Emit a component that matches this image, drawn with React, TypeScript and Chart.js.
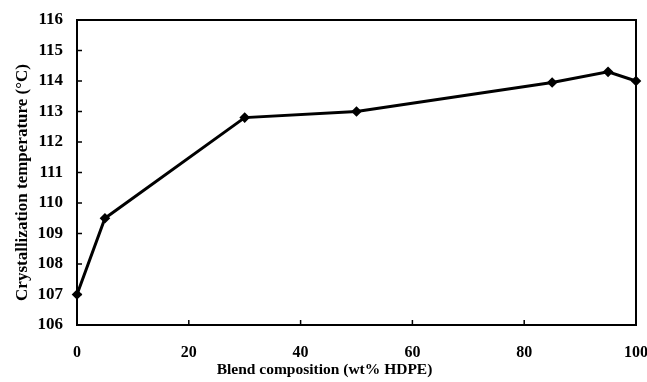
import React, { useEffect, useRef } from "react";
import { Chart, registerables } from "chart.js";

Chart.register(...registerables);

const compositions = [0, 5, 30, 50, 85, 95, 100];
const crystTemps = [107, 109.5, 112.8, 113.0, 113.95, 114.3, 114.0];
const xTickValues = [0, 20, 40, 60, 80, 100];
const yTickValues = [106, 107, 108, 109, 110, 111, 112, 113, 114, 115, 116];
const xTitle = "Blend composition (wt% HDPE)";
const yTitle = "Crystallization temperature (°C)";

const FONT = "'Liberation Serif', 'Times New Roman', serif";

const framePlugin = {
  id: "frame",
  beforeDatasetsDraw(chart: any) {
    const { ctx, chartArea, scales } = chart;
    const { left, right, top, bottom } = chartArea;
    const x = scales.x;
    const y = scales.y;
    ctx.save();
    ctx.strokeStyle = "#000";
    ctx.lineWidth = 1.5;
    ctx.beginPath();
    for (const v of yTickValues) {
      const py = y.getPixelForValue(v);
      ctx.moveTo(left, py);
      ctx.lineTo(left + 5, py);
    }
    for (const v of xTickValues) {
      const px = x.getPixelForValue(v);
      ctx.moveTo(px, bottom);
      ctx.lineTo(px, bottom - 5);
    }
    ctx.stroke();
    ctx.lineWidth = 2;
    ctx.strokeRect(left, top, right - left, bottom - top);
    ctx.restore();
  },
  afterDraw(chart: any) {
    const { ctx, chartArea } = chart;
    const { top, bottom } = chartArea;
    ctx.save();
    ctx.fillStyle = "#000";
    ctx.textAlign = "center";
    ctx.textBaseline = "middle";
    ctx.font = `bold 15.5px ${FONT}`;
    ctx.fillText(xTitle, chart.width / 2 + 1, 370);
    ctx.translate(23, (top + bottom) / 2 + 10);
    ctx.rotate(-Math.PI / 2);
    ctx.font = `bold 17px ${FONT}`;
    ctx.fillText(yTitle, 0, 0);
    ctx.restore();
  },
};

export default function App() {
  const ref = useRef<HTMLCanvasElement | null>(null);
  useEffect(() => {
    if (!ref.current) return;
    const chart = new Chart(ref.current, {
      type: "line",
      data: {
        datasets: [
          {
            data: compositions.map((c, i) => ({ x: c, y: crystTemps[i] })),
            borderColor: "#000",
            backgroundColor: "#000",
            borderWidth: 3,
            pointStyle: "rectRot",
            pointRadius: 3.2,
            pointBackgroundColor: "#000",
            pointBorderColor: "#000",
            tension: 0,
            clip: false as any,
          },
        ],
      },
      options: {
        animation: false,
        responsive: false,
        maintainAspectRatio: false,
        layout: { padding: { left: 0, right: 11, top: 20, bottom: 0 } },
        plugins: { legend: { display: false }, tooltip: { enabled: false } },
        scales: {
          x: {
            type: "linear",
            min: 0,
            max: 100,
            grid: { display: false, drawTicks: false },
            border: { display: false },
            ticks: {
              stepSize: 20,
              padding: 18,
              color: "#000",
              font: { family: FONT, size: 16, weight: "bold" },
              maxRotation: 0,
            },
            afterFit: (s: any) => {
              s.height = 57;
              s.paddingLeft = 0;
              s.paddingRight = 0;
            },
          },
          y: {
            type: "linear",
            min: 106,
            max: 116,
            grid: { display: false, drawTicks: false },
            border: { display: false },
            ticks: {
              stepSize: 1,
              padding: 14,
              color: "#000",
              font: { family: FONT, size: 17, weight: "bold" },
            },
            afterFit: (s: any) => {
              s.width = 77;
              s.paddingTop = 0;
              s.paddingBottom = 0;
            },
          },
        },
      },
      plugins: [framePlugin],
    });
    return () => chart.destroy();
  }, []);
  return (
    <div style={{ position: "absolute", left: 0, top: 0, width: 647, height: 382, background: "#fff" }}>
      <canvas ref={ref} width={647} height={382} style={{ width: 647, height: 382, display: "block" }} />
    </div>
  );
}
